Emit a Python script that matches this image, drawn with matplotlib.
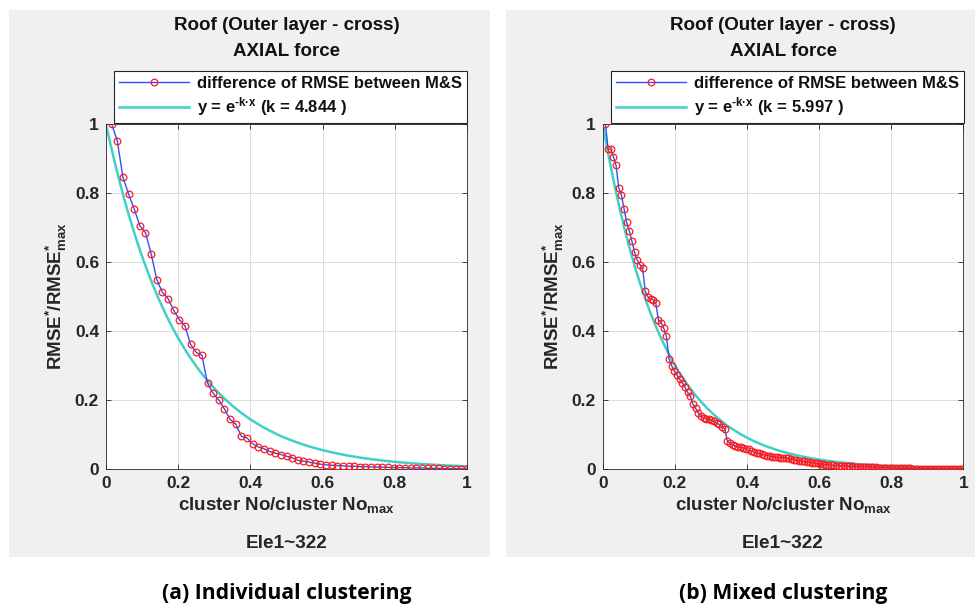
import numpy as np
import matplotlib
matplotlib.use("Agg")
from matplotlib import pyplot as plt
from matplotlib.patches import Rectangle

plt.rcParams['font.family'] = ['Liberation Sans', 'DejaVu Sans']
plt.rcParams['font.weight'] = 'bold'
plt.rcParams['axes.labelweight'] = 'bold'
plt.rcParams['mathtext.fontset'] = 'custom'
plt.rcParams['mathtext.rm'] = 'Liberation Sans:bold'
plt.rcParams['mathtext.it'] = 'Liberation Sans:bold'
plt.rcParams['mathtext.bf'] = 'Liberation Sans:bold'

# (a) individual clustering, 64 cluster steps
individual_rmse = [
    1.000, 0.951, 0.846, 0.797, 0.754, 0.705, 0.685, 0.624, 0.549, 0.512,
    0.494, 0.460, 0.433, 0.415, 0.361, 0.338, 0.330, 0.248, 0.219, 0.200,
    0.174, 0.144, 0.130, 0.095, 0.090, 0.073, 0.064, 0.059, 0.051, 0.046,
    0.042, 0.037, 0.033, 0.025, 0.023, 0.020, 0.017, 0.014, 0.012, 0.011,
    0.010, 0.009, 0.008, 0.008, 0.007, 0.007, 0.006, 0.006, 0.005, 0.005,
    0.004, 0.004, 0.004, 0.003, 0.003, 0.003, 0.002, 0.002, 0.002, 0.001,
    0.001, 0.001, 0.0005, 0.000,
]
individual_k = 4.844

# (b) mixed clustering, 136 cluster steps
mixed_rmse = [
    1.000, 0.927, 0.927, 0.905, 0.880, 0.815, 0.795, 0.755, 0.715, 0.690,
    0.660, 0.628, 0.605, 0.592, 0.583, 0.515, 0.499, 0.493, 0.490, 0.480,
    0.432, 0.424, 0.408, 0.385, 0.318, 0.299, 0.284, 0.272, 0.260, 0.250,
    0.237, 0.222, 0.212, 0.188, 0.176, 0.163, 0.153, 0.149, 0.146, 0.144,
    0.142, 0.138, 0.132, 0.129, 0.122, 0.117, 0.080, 0.075, 0.070, 0.066,
    0.064, 0.063, 0.062, 0.059, 0.057, 0.052, 0.049, 0.046, 0.045, 0.043,
    0.041, 0.039, 0.038, 0.036, 0.035, 0.034, 0.033, 0.033, 0.032, 0.031,
    0.029, 0.027, 0.025, 0.024, 0.023, 0.022, 0.021, 0.020, 0.018, 0.017,
    0.016, 0.015, 0.014, 0.013, 0.012, 0.011, 0.011, 0.010, 0.010, 0.009,
    0.009, 0.008, 0.008, 0.008, 0.007, 0.007, 0.007, 0.006, 0.006, 0.006,
    0.005, 0.005, 0.005, 0.004, 0.004, 0.004, 0.004, 0.003, 0.003, 0.003,
    0.003, 0.002, 0.002, 0.002, 0.002, 0.002, 0.001, 0.001, 0.001, 0.001,
    0.001, 0.001, 0.001, 0.001, 0.001, 0.0005, 0.0005, 0.0005, 0.0005, 0.0005,
    0.0005, 0.0003, 0.0002, 0.0001, 0.0001, 0.000,
]
mixed_k = 5.997

ticks = [0, 0.2, 0.4, 0.6, 0.8, 1]
tick_labels = ['0', '0.2', '0.4', '0.6', '0.8', '1']
titles = ['Roof (Outer layer - cross)', 'AXIAL force']
element_label = 'Ele1~322'
captions = ['(a) Individual clustering', '(b) Mixed clustering']

TXT = '#262626'
W, H = 975, 605


def fx(px):
    return px / W


def fy(py):
    return 1 - py / H


def draw_panel(fig, x0, x1, rmse, k, caption, bg):
    fig.patches.append(Rectangle((fx(bg[0]), fy(bg[1] + bg[3])), fx(bg[2]), bg[3] / H,
                                 transform=fig.transFigure, facecolor='#f0f0f0',
                                 edgecolor='none', zorder=-5))
    ax = fig.add_axes([fx(x0), fy(469), fx(x1 - x0), 345 / H])
    ax.set_zorder(1)
    n = len(rmse)
    x = np.arange(1, n + 1) / n
    ax.plot(x, rmse, color='#3050ff', lw=1.0, marker='o', ms=4.8,
            mfc='none', mec='#ff1a1a', mew=0.9,
            label='difference of RMSE between M&S', zorder=3)
    xf = np.linspace(0, 1, 300)
    ax.plot(xf, np.exp(-k * xf), color='#40d0c6', lw=1.8,
            label=r'y = e$^{\text{-k·x}}$ (k = %.3f )' % k, zorder=2)
    ax.set_xlim(0, 1)
    ax.set_ylim(0, 1)
    ax.set_xticks(ticks)
    ax.set_xticklabels(tick_labels, fontweight='bold')
    ax.set_yticks(ticks)
    ax.set_yticklabels(tick_labels, fontweight='bold')
    ax.grid(True, color='#dcdcdc', lw=0.7)
    ax.set_axisbelow(True)
    ax.tick_params(direction='in', length=3.5, width=0.6, top=True, right=True,
                   labelsize=12.5, colors=TXT, pad=5)
    for s in ax.spines.values():
        s.set_color(TXT)
        s.set_linewidth(0.6)
    ax.set_xlabel(r'cluster No/cluster No$_{\mathregular{max}}$', fontsize=13.5,
                  color=TXT, labelpad=3)
    ax.set_ylabel(r'RMSE$^{*}$/RMSE$^{*}_{\mathregular{max}}$', fontsize=13.5,
                  color=TXT, labelpad=4)
    cx = (x0 + x1) / 2
    fig.text(fx(cx), fy(25), titles[0], ha='center', va='center', fontsize=13.5, color='#111111')
    fig.text(fx(cx), fy(52), titles[1], ha='center', va='center', fontsize=13.5, color='#111111')
    fig.text(fx(cx), fy(543), element_label, ha='center', va='center', fontsize=13.7, color=TXT)
    fig.text(fx(cx), fy(593), caption, ha='center', va='center', fontsize=15.2,
             family='Open Sans', weight='bold', color='black')
    leg = ax.legend(loc='lower left', bbox_to_anchor=(fx(x0 + 8), fy(123)),
                    bbox_transform=fig.transFigure, fontsize=12, frameon=True,
                    fancybox=False, borderaxespad=0, handlelength=4.2,
                    borderpad=0.3, labelspacing=0.25, handletextpad=0.5,
                    markerfirst=True, framealpha=1)
    leg.get_frame().set_edgecolor(TXT)
    leg.get_frame().set_linewidth(0.8)
    for t in leg.get_texts():
        t.set_color('#111111')
    return ax


fig = plt.figure(figsize=(9.75, 6.05), dpi=100)
draw_panel(fig, 106, 467, individual_rmse, individual_k, captions[0], (9, 10, 481, 547))
draw_panel(fig, 602.8, 963.3, mixed_rmse, mixed_k, captions[1], (506, 10, 469, 547))
fig.savefig('out.png', dpi=100)
